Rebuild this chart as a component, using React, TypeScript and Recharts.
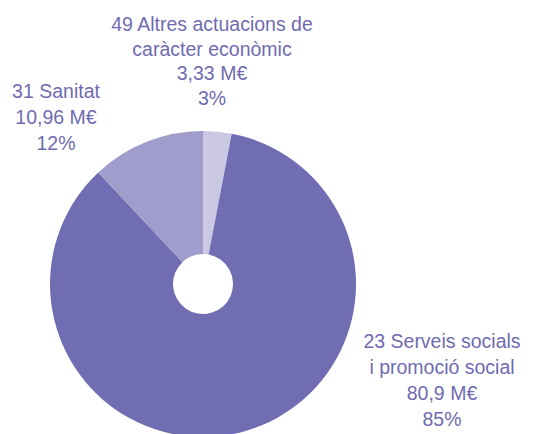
import { PieChart, Pie, Cell } from "recharts";

// slices in clockwise order from 12 o'clock
const names = [
  ["49 Altres actuacions de", "caràcter econòmic"],
  ["23 Serveis socials", "i promoció social"],
  ["31 Sanitat"],
];
const amounts = ["3,33 M€", "80,9 M€", "10,96 M€"];
const percents = [3, 85, 12];

const colors = ["#CBC8E4", "#716DB2", "#A09CCB"];
const textColor = "#6F6BB1";

// label anchor (x centre, first baseline, line gap) per slice
const labelPos = [
  { x: 212, y: 31, gap: 24.5 },
  { x: 442, y: 348, gap: 26 },
  { x: 56, y: 98, gap: 26 },
];

const data = percents.map((p, i) => ({
  name: names[i].join(" "),
  lines: [...names[i], amounts[i], `${p}%`],
  value: p,
}));

const renderLabel = (props: any) => {
  const { index } = props;
  const pos = labelPos[index];
  const lines: string[] = data[index].lines;
  return (
    <text
      key={`lbl-${index}`}
      x={pos.x}
      y={pos.y}
      textAnchor="middle"
      fill={textColor}
      fontSize={19.5}
      fontFamily="'Liberation Sans', Arial, sans-serif"
    >
      {lines.map((l, i) => (
        <tspan key={i} x={pos.x} y={pos.y + i * pos.gap}>
          {l}
        </tspan>
      ))}
    </text>
  );
};

export default function App() {
  return (
    <div style={{ position: "fixed", left: 0, top: 0, background: "#fff" }}>
      <PieChart width={536} height={434}>
        <Pie
          data={data}
          dataKey="value"
          cx={198}
          cy={279}
          innerRadius={30}
          outerRadius={153}
          startAngle={90}
          endAngle={-270}
          stroke="none"
          label={renderLabel}
          labelLine={false}
          isAnimationActive={false}
        >
          {data.map((d, i) => (
            <Cell key={d.name} fill={colors[i]} />
          ))}
        </Pie>
      </PieChart>
    </div>
  );
}
